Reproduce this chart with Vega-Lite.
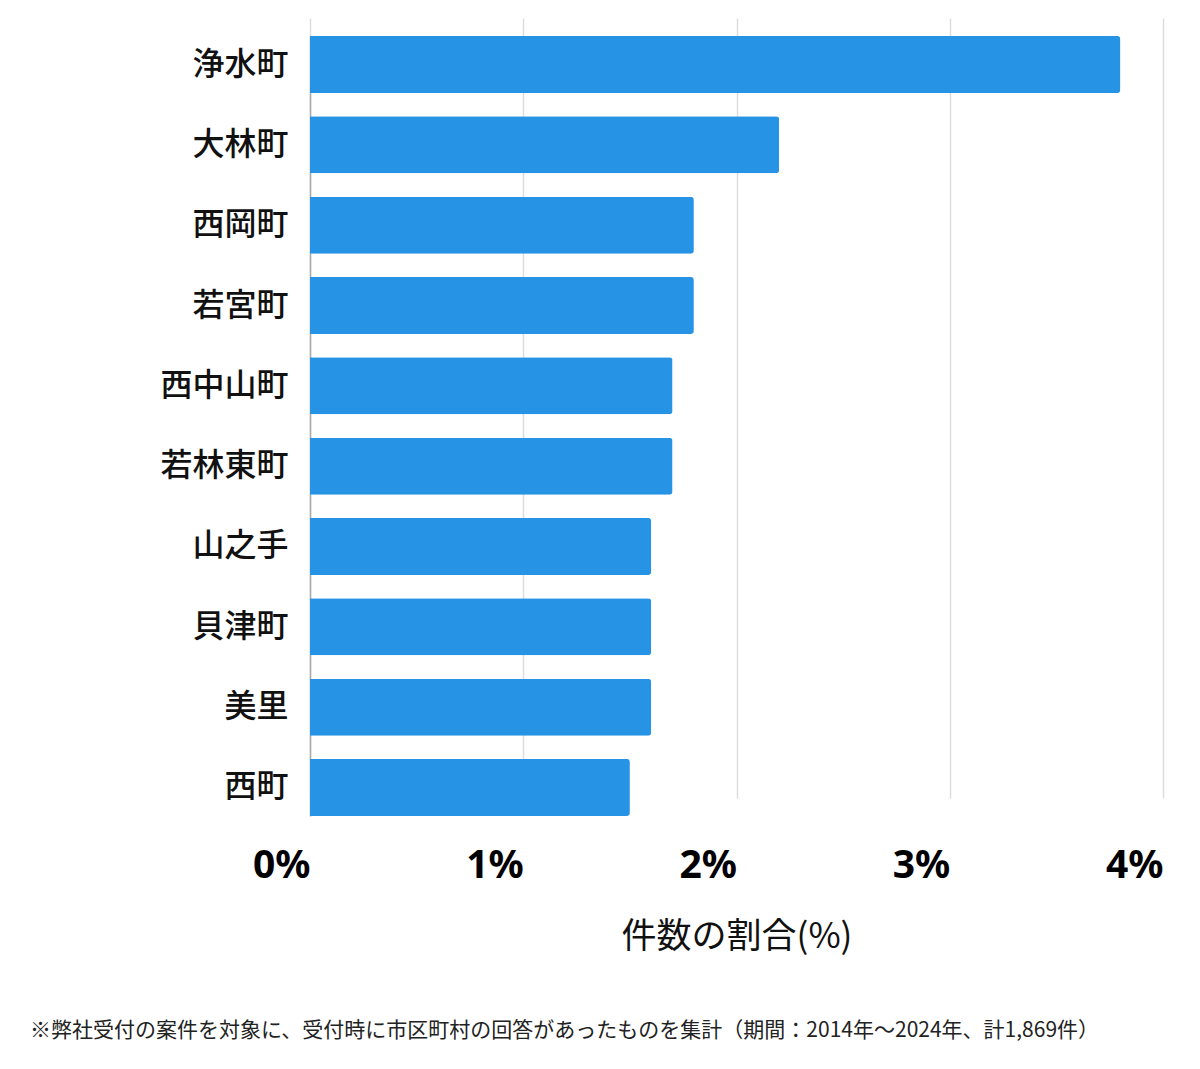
{
  "$schema": "https://vega.github.io/schema/vega-lite/v6.json",
  "autosize": "none",
  "width": 853,
  "height": 798,
  "padding": {"left": 310, "top": 18, "right": 37, "bottom": 253},
  "background": "#ffffff",
  "data": {
    "values": [
      {"town": "浄水町", "pct": 3.80},
      {"town": "大林町", "pct": 2.20},
      {"town": "西岡町", "pct": 1.80},
      {"town": "若宮町", "pct": 1.80},
      {"town": "西中山町", "pct": 1.70},
      {"town": "若林東町", "pct": 1.70},
      {"town": "山之手", "pct": 1.60},
      {"town": "貝津町", "pct": 1.60},
      {"town": "美里", "pct": 1.60},
      {"town": "西町", "pct": 1.50}
    ]
  },
  "title": {
    "text": "※弊社受付の案件を対象に、受付時に市区町村の回答があったものを集計（期間：2014年～2024年、計1,869件）",
    "orient": "bottom",
    "anchor": "start",
    "frame": "group",
    "dx": -280,
    "offset": 66,
    "font": "Noto Sans CJK JP",
    "fontSize": 21,
    "fontWeight": "normal",
    "color": "#222222"
  },
  "mark": {"type": "bar", "color": "#2693E5", "cornerRadiusEnd": 3},
  "encoding": {
    "y": {
      "field": "town",
      "type": "nominal",
      "sort": null,
      "scale": {"range": [18, 798], "paddingInner": 0.29, "paddingOuter": 0},
      "axis": {
        "title": null,
        "domain": true,
        "domainColor": "#aaaaaa",
        "domainWidth": 1.5,
        "ticks": false,
        "grid": false,
        "labelFont": "Noto Sans CJK JP",
        "labelFontSize": 32,
        "labelFontWeight": 500,
        "labelColor": "#111111",
        "labelPadding": 22
      }
    },
    "x": {
      "field": "pct",
      "type": "quantitative",
      "scale": {"domain": [0, 4], "nice": false},
      "axis": {
        "values": [0, 1, 2, 3, 4],
        "labelExpr": "datum.value + '%'",
        "domain": false,
        "ticks": false,
        "grid": true,
        "gridColor": "#dddddd",
        "gridWidth": 1.5,
        "labelFont": "Noto Sans",
        "labelFontSize": 39,
        "labelFontWeight": "bold",
        "labelColor": "#000000",
        "labelAlign": "right",
        "labelPadding": 30,
        "title": "件数の割合(%)",
        "titleFont": "Noto Sans CJK JP",
        "titleFontSize": 35,
        "titleFontWeight": "normal",
        "titleColor": "#111111",
        "titlePadding": 34
      }
    }
  },
  "config": {"view": {"stroke": null}}
}
